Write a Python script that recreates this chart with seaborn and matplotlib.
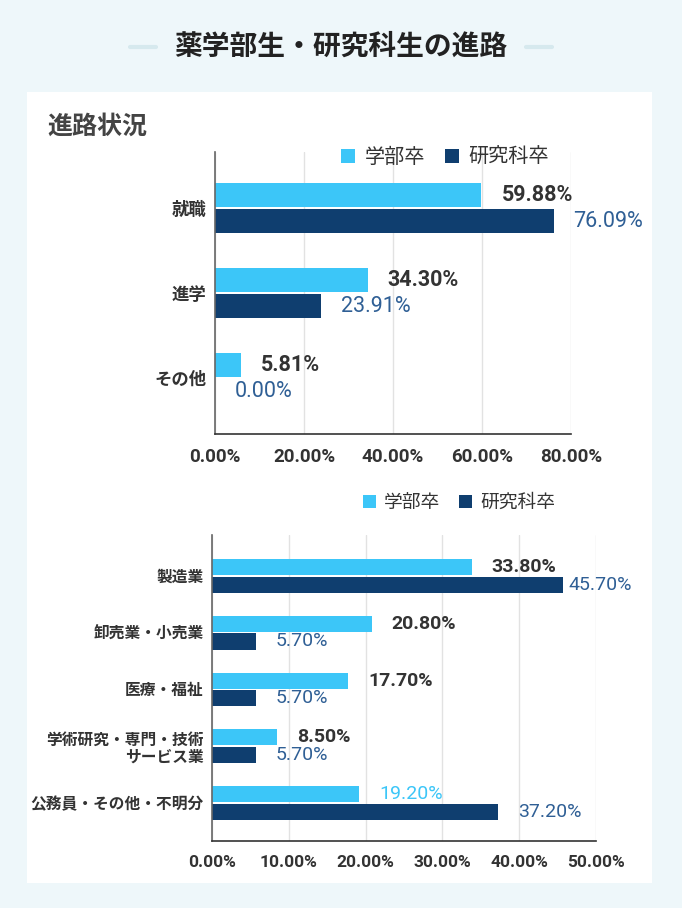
import matplotlib
matplotlib.use("Agg")
import matplotlib.pyplot as plt
import pandas as pd
import seaborn as sns
from matplotlib.patches import Rectangle
from matplotlib.lines import Line2D

sns.set_theme(style="white")
plt.rcParams['font.family'] = ['Roboto', 'Noto Sans CJK JP', 'DejaVu Sans']

# data
series = ["学部卒", "研究科卒"]

career_cats = ["就職", "進学", "その他"]
career_undergrad = [59.88, 34.30, 5.81]
career_grad = [76.09, 23.91, 0.00]

industry_cats = ["製造業", "卸売業・小売業", "医療・福祉",
                 "学術研究・専門・技術\nサービス業", "公務員・その他・不明分"]
industry_undergrad = [33.80, 20.80, 17.70, 8.50, 19.20]
industry_grad = [45.70, 5.70, 5.70, 5.70, 37.20]

LIGHT = "#3cc6f8"
DARK = "#0f3e6f"
DARK_TXT = "#2f5f95"
BG = "#eef7fa"

W, H = 682, 908
fig = plt.figure(figsize=(W / 100, H / 100), dpi=100)
fig.patch.set_facecolor(BG)


def px_axes(x0, y0, x1, y1):
    ax = fig.add_axes([x0 / W, 1 - y1 / H, (x1 - x0) / W, (y1 - y0) / H])
    ax.set_facecolor("none")
    ax.set_zorder(2)
    return ax


# white card
fig.patches.append(Rectangle((27 / W, 1 - 883 / H), (652 - 27) / W, (883 - 92) / H,
                             transform=fig.transFigure, facecolor="white",
                             edgecolor="none", zorder=-10))

# headline with side rules
fig.text(341 / W, 1 - 47 / H, "薬学部生・研究科生の進路", ha="center", va="center",
         fontsize=20, fontweight="bold", color="#222222")
for xa, xb in [(130, 156), (526, 552)]:
    fig.lines.append(Line2D([xa / W, xb / W], [1 - 47 / H] * 2, transform=fig.transFigure,
                            color="#d6e9ee", lw=3))
fig.text(47 / W, 1 - 127 / H, "進路状況", ha="left", va="center",
         fontsize=18, fontweight="bold", color="#444444")


def draw(ax, cats, a, b, xmax, step, ylim, fs_lab, fs_cat, fs_val, fs_leg, leg_pos, ypad,
         highlight=(), label_cap=None):
    df = pd.DataFrame({
        "cat": cats * 2,
        "val": a + b,
        "grp": [series[0]] * len(cats) + [series[1]] * len(cats),
    })
    sns.barplot(data=df, y="cat", x="val", hue="grp", orient="h", ax=ax,
                palette=[LIGHT, DARK], saturation=1, width=0.62, gap=0.08, linewidth=0,
                order=cats, hue_order=series)
    ax.set_xlim(0, xmax)
    ax.set_ylim(*ylim)
    ticks = [i * step for i in range(int(round(xmax / step)) + 1)]
    ax.set_xticks(ticks)
    ax.set_xticklabels([f"{t:.2f}%" for t in ticks], fontsize=fs_lab, fontweight="bold",
                       color="#333333")
    ax.set_yticks(range(len(cats)))
    ax.set_yticklabels(cats, fontsize=fs_cat, fontweight="bold", color="#333333",
                       linespacing=1.15)
    ax.tick_params(axis="x", length=0, pad=ypad)
    ax.tick_params(axis="y", length=0, pad=6)
    ax.set_xlabel("")
    ax.set_ylabel("")
    ax.grid(axis="x", color="#e2e2e2", lw=1)
    ax.set_axisbelow(True)
    for s in ["top", "right"]:
        ax.spines[s].set_visible(False)
    ax.spines["left"].set_color("#666666")
    ax.spines["bottom"].set_color("#333333")
    ax.spines["left"].set_linewidth(1.2)
    ax.spines["bottom"].set_linewidth(1.2)

    # 20px gap between bar end and its label, in data units
    off = 20 * xmax / ax.get_window_extent().width
    for k, (cont, vals) in enumerate(zip(ax.containers, [a, b])):
        for i, (bar, v) in enumerate(zip(cont, vals)):
            yc = bar.get_y() + bar.get_height() / 2
            lx = v + off
            if label_cap is not None:
                lx = min(lx, label_cap)
            if k == 0 and i not in highlight:
                color, weight = "#333333", "bold"
            elif k == 0:
                color, weight = LIGHT, "normal"
            else:
                color, weight = DARK_TXT, "normal"
            ax.text(lx, yc, f"{v:.2f}%", ha="left", va="center", fontsize=fs_val,
                    fontweight=weight, color=color, clip_on=False)

    leg = ax.legend(loc="center", bbox_to_anchor=leg_pos, ncol=2, frameon=False,
                    fontsize=fs_leg, handlelength=0.7, handleheight=0.7,
                    handletextpad=0.45, columnspacing=1.0, borderaxespad=0)
    for t in leg.get_texts():
        t.set_color("#333333")


ax1 = px_axes(215, 152, 571, 434)
draw(ax1, career_cats, career_undergrad, career_grad, 80, 20, (2.66, -0.66),
     13.5, 12.5, 15.5, 14.5, (0.646, 0.982), 10)

ax2 = px_axes(212, 535, 596, 841)
draw(ax2, industry_cats, industry_undergrad, industry_grad, 50, 10, (4.67, -0.72),
     12.5, 11.3, 14, 13.5, (0.644, 1.105), 10, highlight=(4,), label_cap=46.4)

fig.savefig("out.png", dpi=100, facecolor=BG)
